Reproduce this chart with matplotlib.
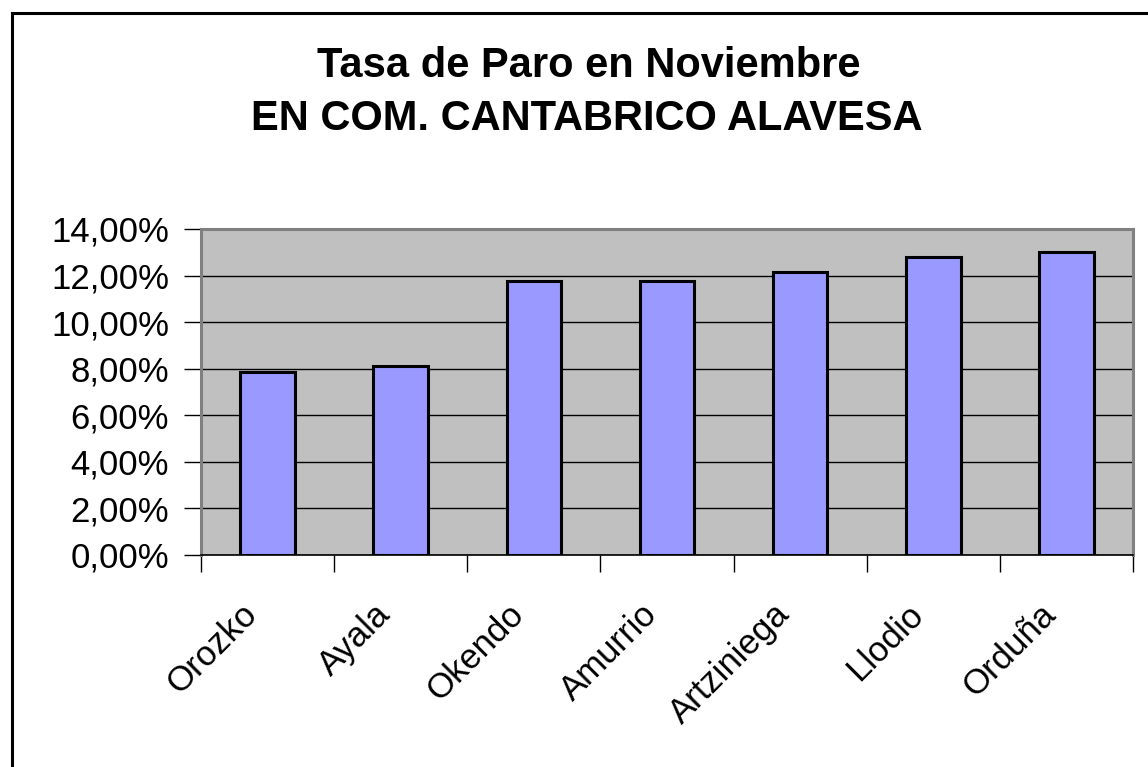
import matplotlib.pyplot as plt
from matplotlib.lines import Line2D
from matplotlib.ticker import FuncFormatter
import numpy as np

plt.rcParams['font.family'] = ['Liberation Sans', 'DejaVu Sans']

municipios = ['Orozko', 'Ayala', 'Okendo', 'Amurrio', 'Artziniega', 'Llodio', 'Orduña']
tasa_paro = [7.85, 8.13, 11.75, 11.75, 12.15, 12.78, 13.03]
y_ticks = [0, 2, 4, 6, 8, 10, 12, 14]

W, H = 1148, 767
fig = plt.figure(figsize=(W / 100, H / 100), dpi=100)
fig.patch.set_facecolor('white')

# outer frame (only top and left edges are visible in the original)
fig.add_artist(Line2D([12 / W, 12 / W], [0, 1 - 13 / H], color='black', lw=2.2))
fig.add_artist(Line2D([12 / W, 1], [1 - 13 / H, 1 - 13 / H], color='black', lw=2.2))

ax = fig.add_axes([201 / W, 1 - 555 / H, (1133 - 201) / W, (555 - 229) / H])
ax.set_facecolor('#c0c0c0')

x = np.arange(len(municipios))
ax.bar(x, tasa_paro, width=0.41, color='#9999ff', edgecolor='black', linewidth=2.2, zorder=3)

ax.set_xlim(-0.5, len(municipios) - 0.5)
ax.set_ylim(0, 14)
ax.set_yticks(y_ticks)
ax.yaxis.set_major_formatter(FuncFormatter(lambda v, p: f'{v:.2f}%'.replace('.', ',')))
ax.grid(axis='y', color='black', linewidth=1.0, zorder=1)

# ticks between categories
ax.set_xticks(np.arange(-0.5, len(municipios), 1.0))
ax.set_xticklabels([])
ax.tick_params(axis='x', direction='out', length=12, width=1, color='black')
ax.tick_params(axis='y', direction='out', length=12, width=1, color='black',
               labelsize=25, pad=11)

for s in ['top', 'right', 'left']:
    ax.spines[s].set_color('#808080')
    ax.spines[s].set_linewidth(2.2)
ax.spines['bottom'].set_color('black')
ax.spines['bottom'].set_linewidth(1.2)
ax.spines['bottom'].set_zorder(4)

for xi, name in zip(x, municipios):
    ax.annotate(name, xy=(xi, 0), xycoords=('data', 'axes fraction'),
                xytext=(-11, -39), textcoords='offset points',
                rotation=45, rotation_mode='anchor', ha='right', va='center',
                fontsize=25)

fig.text(0.5 + 15 / W, 1 - 66 / H, 'Tasa de Paro en Noviembre', ha='center', va='center',
         fontsize=30, fontweight='bold')
fig.text(0.5 + 13 / W, 1 - 119 / H, 'EN COM. CANTABRICO ALAVESA', ha='center', va='center',
         fontsize=30, fontweight='bold')

fig.savefig('out.png', dpi=100)
